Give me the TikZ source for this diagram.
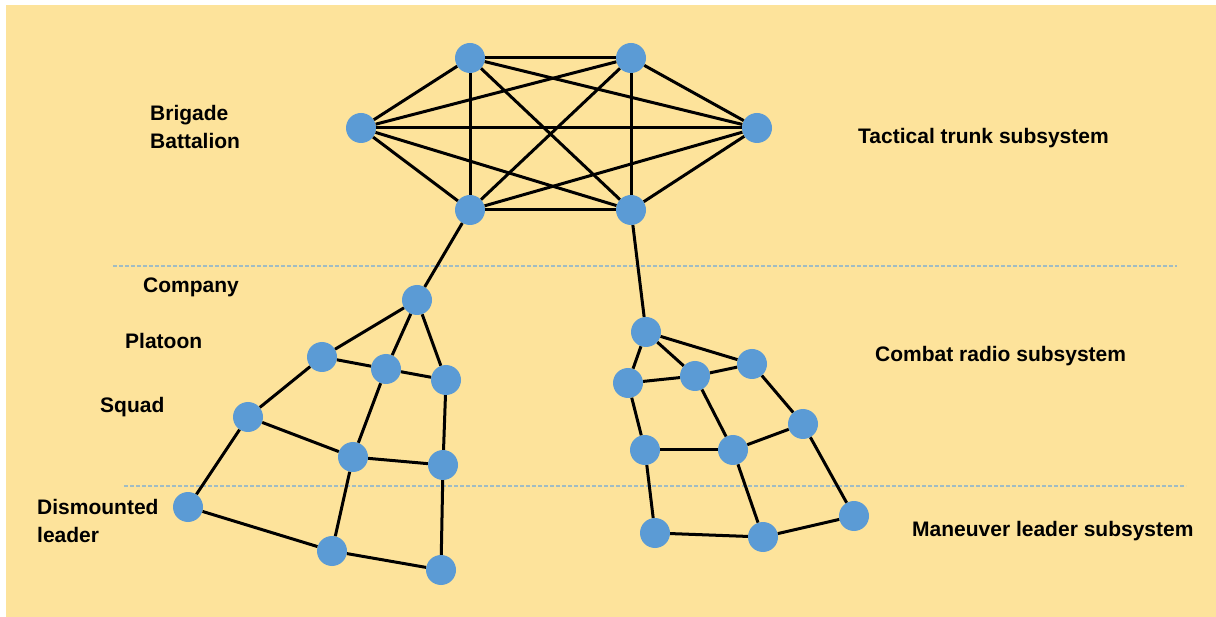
\documentclass[tikz,border=0pt]{standalone}
\usepackage{fontspec}
\setmainfont{Liberation Sans}
\usepackage{tikz}
\usetikzlibrary{positioning}
\definecolor{paper}{RGB}{253,227,155}
\definecolor{dot}{RGB}{91,155,213}
\definecolor{sep}{RGB}{160,188,196}

\begin{document}
\begin{tikzpicture}[x=1pt,y=-1pt]
            \tikzset{
                site/.style={circle,fill=dot,minimum size=30pt,inner sep=0pt},
                link/.style={line width=3pt,black},
                lbl/.style={font=\bfseries\fontsize{21}{28.5}\selectfont,anchor=west,align=left,inner sep=0pt},}
            \fill[white] (0,0) rectangle (1216,617);
            \fill[paper] (6,5) rectangle (1216,617);
            \useasboundingbox (0,0) rectangle (1216,617);
            \draw[sep,line width=1.2pt,dash pattern=on 4pt off 2pt] (113,266) -- (1177,266);
            \draw[sep,line width=1.2pt,dash pattern=on 4pt off 2pt] (124,486) -- (1186,486);
            % tactical trunk
            \node[site] (t1) at (470,58) {};
            \node[site] (t2) at (631,58) {};
            \node[site] (tl) at (361,128) {};
            \node[site] (tr) at (757,128) {};
            \node[site] (b1) at (470,210) {};
            \node[site] (b2) at (631,210) {};
            % left combat radio / maneuver
            \node[site] (c) at (417,300) {};
            \node[site] (p1) at (322,357) {};
            \node[site] (p2) at (386,369) {};
            \node[site] (p3) at (446,380) {};
            \node[site] (s1) at (248,417) {};
            \node[site] (s2) at (353,457) {};
            \node[site] (s3) at (443,465) {};
            \node[site] (d1) at (188,507) {};
            \node[site] (d2) at (332,551) {};
            \node[site] (d3) at (441,570) {};
            % right combat radio / maneuver
            \node[site] (rc) at (646,332) {};
            \node[site] (rp1) at (628,383) {};
            \node[site] (rp2) at (695,376) {};
            \node[site] (rp3) at (752,364) {};
            \node[site] (rs1) at (645,450) {};
            \node[site] (rs2) at (733,450) {};
            \node[site] (rs3) at (803,424) {};
            \node[site] (rd1) at (655,533) {};
            \node[site] (rd2) at (763,537) {};
            \node[site] (rd3) at (854,516) {};
            \foreach \a/\b in {t1/t2,t1/tl,t1/tr,t1/b1,t1/b2,t2/tl,t2/tr,t2/b1,t2/b2,tl/tr,tl/b1,tl/b2,tr/b1,tr/b2,b1/b2}
                \draw[link] (\a) -- (\b);
            \foreach \a/\b in {b1/c,c/p1,c/p2,c/p3,p1/p2,p2/p3,p1/s1,p2/s2,p3/s3,s1/s2,s2/s3,s1/d1,s2/d2,s3/d3,d1/d2,d2/d3}
                \draw[link] (\a) -- (\b);
            \foreach \a/\b in {b2/rc,rc/rp1,rc/rp2,rc/rp3,rp1/rp2,rp2/rp3,rp1/rs1,rp2/rs2,rp3/rs3,rs1/rs2,rs2/rs3,rs1/rd1,rs2/rd2,rs3/rd3,rd1/rd2,rd2/rd3}
                \draw[link] (\a) -- (\b);
            % labels
            \node[lbl] (brig) at (150,127) {Brigade\\Battalion};
            \node[lbl] (comp) at (143,287) {Company};
            \node[lbl] (plat) at (125,341) {Platoon};
            \node[lbl] (squad) at (100,407) {Squad};
            \node[lbl] (dism) at (37,521) {Dismounted\\leader};
            \node[lbl] (trunk) at (858,138) {Tactical trunk subsystem};
            \node[lbl] (radio) at (875,356) {Combat radio subsystem};
            \node[lbl] (man) at (912,531) {Maneuver leader subsystem};
        \end{tikzpicture}
\end{document}
